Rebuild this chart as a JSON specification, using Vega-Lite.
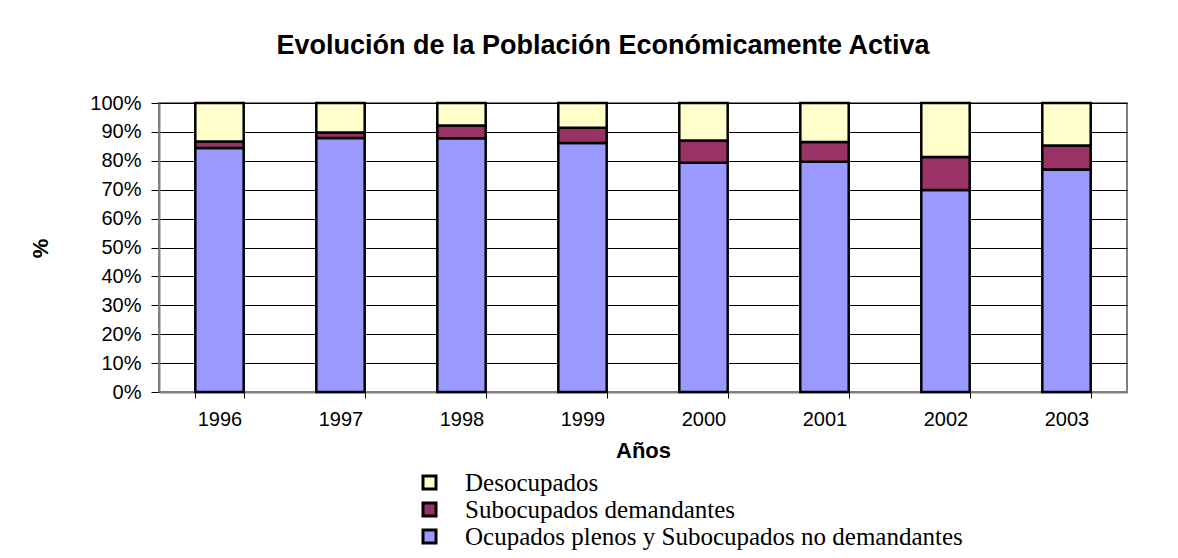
{
  "$schema": "https://vega.github.io/schema/vega-lite/v6.json",
  "width": 968,
  "height": 289,
  "autosize": "none",
  "padding": {"left": 159, "top": 103, "right": 51, "bottom": 166},
  "background": "white",
  "title": {
    "text": "Evolución de la Población Económicamente Activa",
    "font": "Liberation Sans",
    "fontSize": 27,
    "fontWeight": "bold",
    "color": "black",
    "anchor": "middle",
    "dx": -40,
    "offset": 33
  },
  "data": {
    "values": [
      {"anio": "1996", "serie": "Ocupados plenos y Subocupados no demandantes", "valor": 84.4},
      {"anio": "1996", "serie": "Subocupados demandantes", "valor": 2.3},
      {"anio": "1996", "serie": "Desocupados", "valor": 13.3},
      {"anio": "1997", "serie": "Ocupados plenos y Subocupados no demandantes", "valor": 87.9},
      {"anio": "1997", "serie": "Subocupados demandantes", "valor": 1.9},
      {"anio": "1997", "serie": "Desocupados", "valor": 10.2},
      {"anio": "1998", "serie": "Ocupados plenos y Subocupados no demandantes", "valor": 87.8},
      {"anio": "1998", "serie": "Subocupados demandantes", "valor": 4.4},
      {"anio": "1998", "serie": "Desocupados", "valor": 7.8},
      {"anio": "1999", "serie": "Ocupados plenos y Subocupados no demandantes", "valor": 86.2},
      {"anio": "1999", "serie": "Subocupados demandantes", "valor": 5.2},
      {"anio": "1999", "serie": "Desocupados", "valor": 8.6},
      {"anio": "2000", "serie": "Ocupados plenos y Subocupados no demandantes", "valor": 79.3},
      {"anio": "2000", "serie": "Subocupados demandantes", "valor": 7.7},
      {"anio": "2000", "serie": "Desocupados", "valor": 13.0},
      {"anio": "2001", "serie": "Ocupados plenos y Subocupados no demandantes", "valor": 79.7},
      {"anio": "2001", "serie": "Subocupados demandantes", "valor": 6.8},
      {"anio": "2001", "serie": "Desocupados", "valor": 13.5},
      {"anio": "2002", "serie": "Ocupados plenos y Subocupados no demandantes", "valor": 69.9},
      {"anio": "2002", "serie": "Subocupados demandantes", "valor": 11.4},
      {"anio": "2002", "serie": "Desocupados", "valor": 18.7},
      {"anio": "2003", "serie": "Ocupados plenos y Subocupados no demandantes", "valor": 77.0},
      {"anio": "2003", "serie": "Subocupados demandantes", "valor": 8.3},
      {"anio": "2003", "serie": "Desocupados", "valor": 14.7}
    ]
  },
  "transform": [
    {"calculate": "indexof(['Ocupados plenos y Subocupados no demandantes','Subocupados demandantes','Desocupados'], datum.serie)", "as": "orden"}
  ],
  "mark": {"type": "bar", "stroke": "black", "strokeWidth": 2.5},
  "encoding": {
    "x": {
      "field": "anio",
      "type": "ordinal",
      "scale": {"paddingInner": 0.6, "paddingOuter": 0.3},
      "axis": {
        "title": "Años",
        "labelAngle": 0,
        "tickBand": "extent",
        "tickSize": 6,
        "tickColor": "black",
        "domainColor": "#808080",
        "domainWidth": 2,
        "labelFont": "Liberation Sans",
        "labelFontSize": 20,
        "labelColor": "black",
        "labelPadding": 11,
        "titleFont": "Liberation Sans",
        "titleFontSize": 22,
        "titleFontWeight": "bold",
        "titleColor": "black",
        "titleX": 484,
        "titleY": 65,
        "titleBaseline": "alphabetic",
        "titleAnchor": null,
        "titleAlign": "center"
      }
    },
    "y": {
      "field": "valor",
      "type": "quantitative",
      "stack": "normalize",
      "scale": {"domain": [0, 1]},
      "axis": {
        "title": "%",
        "format": ".0%",
        "values": [0, 0.1, 0.2, 0.3, 0.4, 0.5, 0.6, 0.7, 0.8, 0.9, 1],
        "grid": true,
        "gridColor": "black",
        "gridWidth": 1,
        "tickSize": 8,
        "tickColor": "black",
        "domainColor": "#808080",
        "domainWidth": 2,
        "labelFont": "Liberation Sans",
        "labelFontSize": 20,
        "labelColor": "black",
        "labelPadding": 10,
        "titleFont": "Liberation Sans",
        "titleFontSize": 22,
        "titleFontWeight": "bold",
        "titleColor": "black",
        "titleX": -119,
        "titleY": 145,
        "titleAngle": -90,
        "titleAlign": "center",
        "titleBaseline": "middle"
      }
    },
    "color": {
      "field": "serie",
      "type": "nominal",
      "scale": {
        "domain": ["Desocupados", "Subocupados demandantes", "Ocupados plenos y Subocupados no demandantes"],
        "range": ["#FFFFCC", "#993366", "#9999FF"]
      },
      "legend": {
        "title": null,
        "orient": "none",
        "legendX": 258,
        "legendY": 367,
        "direction": "vertical",
        "symbolType": "square",
        "symbolSize": 169,
        "symbolStrokeColor": "black",
        "symbolStrokeWidth": 3,
        "symbolOpacity": 1,
        "labelFont": "Liberation Serif",
        "labelFontSize": 25,
        "labelColor": "black",
        "labelOffset": 23,
        "rowPadding": 1,
        "padding": 0,
        "labelLimit": 900
      }
    },
    "order": {"field": "orden", "type": "quantitative", "sort": "ascending"}
  },
  "config": {
    "view": {"stroke": "#808080", "strokeWidth": 2},
    "axis": {"gridColor": "black"}
  }
}
